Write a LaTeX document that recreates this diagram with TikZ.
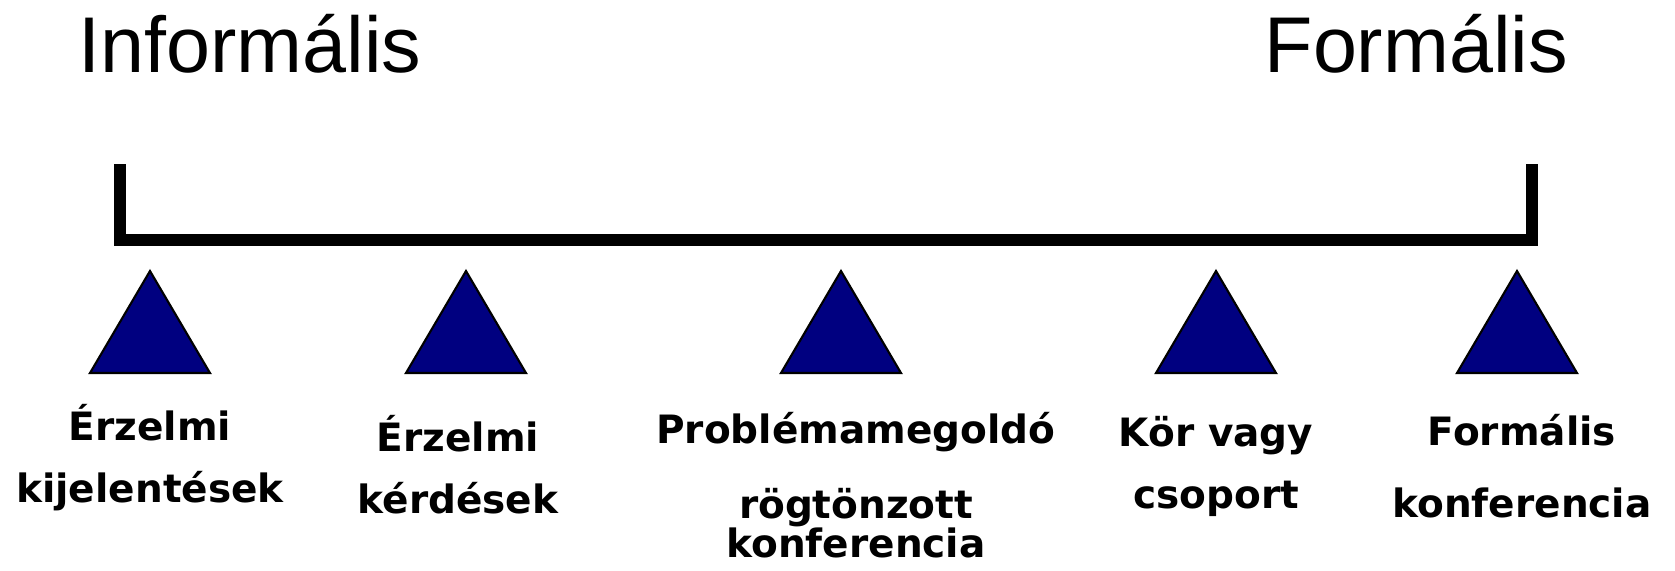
\documentclass[tikz,border=0pt]{standalone}
\usepackage{fontspec}
\setmainfont{Liberation Sans}
\newfontfamily\labelsans{DejaVu Sans}
\usetikzlibrary{positioning}
\definecolor{markernavy}{RGB}{0,0,128}

\begin{document}
\begin{tikzpicture}[x=0.1mm,y=-0.1mm,
        endlabel/.style={font=\fontsize{22.5}{27}\selectfont,inner sep=0pt,anchor=base west},
        marker/.style={fill=markernavy,draw=black,line width=0.6pt,line join=miter},
        caption/.style={font=\labelsans\bfseries\fontsize{11.1}{17.6}\selectfont,align=center,inner sep=0pt,anchor=base}]
        \useasboundingbox (0,0) rectangle (1675,570);

        % Ends of the scale
        \node[endlabel] (informal) at (78,72) {Informális};
        \node[endlabel] (formal) at (1264,72) {Formális};

        % Bracket
        \draw[line width=3.4pt] (120,164) -- (120,240) -- (1532,240) -- (1532,164);

        % Markers
        \foreach \cx in {150, 466, 841, 1216, 1517} {
            \draw[marker] (\cx-60,373) -- (\cx,271) -- (\cx+60,373) -- cycle;
        }

        % Labels (placed at the baseline of their last line)
        \node[caption] (emostate) at (150,502) {Érzelmi\\kijelentések};
        \node[caption] (emoquest) at (458,513) {Érzelmi\\kérdések};
        \node[caption] (adhoc) at (856,557) {Problémamegoldó\\[3.7pt]rögtönzott\\[-6.5pt]konferencia};
        \node[caption] (circle) at (1216,508) {Kör vagy\\csoport};
        \node[caption] (formconf) at (1522,517) {Formális\\[2.8pt]konferencia};
    \end{tikzpicture}
\end{document}
